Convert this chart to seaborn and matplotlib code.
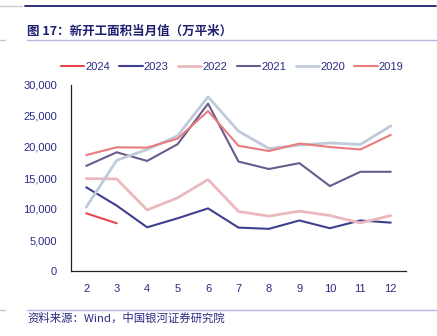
import matplotlib
matplotlib.use("Agg")
import matplotlib.pyplot as plt
from matplotlib.lines import Line2D
from matplotlib.ticker import FixedLocator, FuncFormatter
import seaborn as sns
import pandas as pd

# Monthly new construction starts (10k m²), by year
months = [2, 3, 4, 5, 6, 7, 8, 9, 10, 11, 12]
y2024 = [9300, 7700]
y2023 = [13500, 10550, 7050, 8500, 10100, 7000, 6800, 8150, 6900, 8150, 7800]
y2022 = [14900, 14850, 9850, 11800, 14750, 9600, 8850, 9650, 8950, 7750, 8950]
y2021 = [16950, 19150, 17750, 20450, 27000, 17650, 16450, 17400, 13700, 16000, 16000]
y2020 = [10300, 17850, 19600, 21800, 28100, 22550, 19750, 20300, 20650, 20400, 23400]
y2019 = [18700, 19950, 19900, 21350, 25800, 20200, 19350, 20550, 20000, 19600, 21950]

series = {"2024": y2024, "2023": y2023, "2022": y2022,
          "2021": y2021, "2020": y2020, "2019": y2019}
colors = {"2024": "#e8464f", "2023": "#3f3f8f", "2022": "#ebb9bd",
          "2021": "#6a5b8c", "2020": "#bfcadb", "2019": "#ea7b7f"}
widths = {"2024": 1.5, "2023": 1.5, "2022": 2.0,
          "2021": 1.5, "2020": 2.0, "2019": 1.5}

rows = []
for yr, vals in series.items():
    for i, v in enumerate(vals):
        rows.append({"pos": i, "value": v, "year": yr})
df = pd.DataFrame(rows)

sns.set_style("white")
plt.rcParams["font.family"] = ["Liberation Sans", "Noto Sans CJK SC", "DejaVu Sans"]

fig = plt.figure(figsize=(4.37, 3.36), dpi=100)
ax = fig.add_axes([71 / 437, 1 - 271 / 336, (406 - 71) / 437, (271 - 85) / 336])

for yr in series:
    sub = df[df["year"] == yr]
    sns.lineplot(data=sub, x="pos", y="value", ax=ax, color=colors[yr],
                 linewidth=widths[yr], label=yr, legend=False)

ax.set_xlim(-0.5, len(months) - 0.5)
ax.set_ylim(0, 30000)
ax.set_xlabel("")
ax.set_ylabel("")

tick_color = "#2b2b85"
ax.xaxis.set_major_locator(FixedLocator(range(len(months))))
ax.set_xticklabels([str(m) for m in months])
ax.xaxis.set_minor_locator(FixedLocator([i - 0.5 for i in range(len(months) + 1)]))
ax.tick_params(axis="x", which="major", length=0, pad=9, labelsize=8, labelcolor=tick_color)
ax.tick_params(axis="x", which="minor", length=3, direction="in", color="#222222", width=0.8)
ax.yaxis.set_major_locator(FixedLocator(range(0, 30001, 5000)))
ax.yaxis.set_major_formatter(FuncFormatter(lambda v, p: f"{int(v):,}"))
ax.tick_params(axis="y", which="major", length=3, direction="in", pad=10,
               labelsize=8, labelcolor=tick_color, color="#222222", width=0.8)

for side in ("top", "right"):
    ax.spines[side].set_visible(False)
for side in ("left", "bottom"):
    ax.spines[side].set_color("#222222")
    ax.spines[side].set_linewidth(0.9)

handles = [Line2D([0], [0], color=colors[yr], linewidth=widths[yr]) for yr in series]
leg = fig.legend(handles, list(series.keys()), loc="center", bbox_to_anchor=(232 / 437, 1 - 67 / 336),
                 ncol=6, frameon=False, fontsize=8, handlelength=2.1, columnspacing=0.85,
                 handletextpad=0.1)
for t in leg.get_texts():
    t.set_color(tick_color)

W, H = 437, 336
def hline(x0, x1, y, color, lw):
    fig.add_artist(Line2D([x0 / W, x1 / W], [1 - y / H, 1 - y / H],
                          color=color, linewidth=lw, transform=fig.transFigure))

hline(0, 22, 6, "#c9c9d6", 1.0)
hline(25, 436, 6, "#1f1f78", 1.3)
hline(0, 5, 40, "#c4c4e0", 1.0)
hline(27, 436, 40, "#b7b7de", 1.0)
hline(0, 5, 310, "#c4c4e0", 1.0)
hline(27, 436, 310, "#b7b7de", 1.0)

fig.text(27 / W, 1 - 31 / H, "图 17：新开工面积当月值（万平米）", fontsize=9,
         fontweight="bold", color="#1f2070", va="center", ha="left",
         family=["Noto Sans CJK SC", "DejaVu Sans"])
fig.text(27 / W, 1 - 318 / H, "资料来源：Wind，中国银河证券研究院", fontsize=8.2,
         style="italic", color="#2a2a80", va="center", ha="left",
         family=["Noto Sans CJK SC", "DejaVu Sans"])

fig.savefig("out.png", dpi=100)
